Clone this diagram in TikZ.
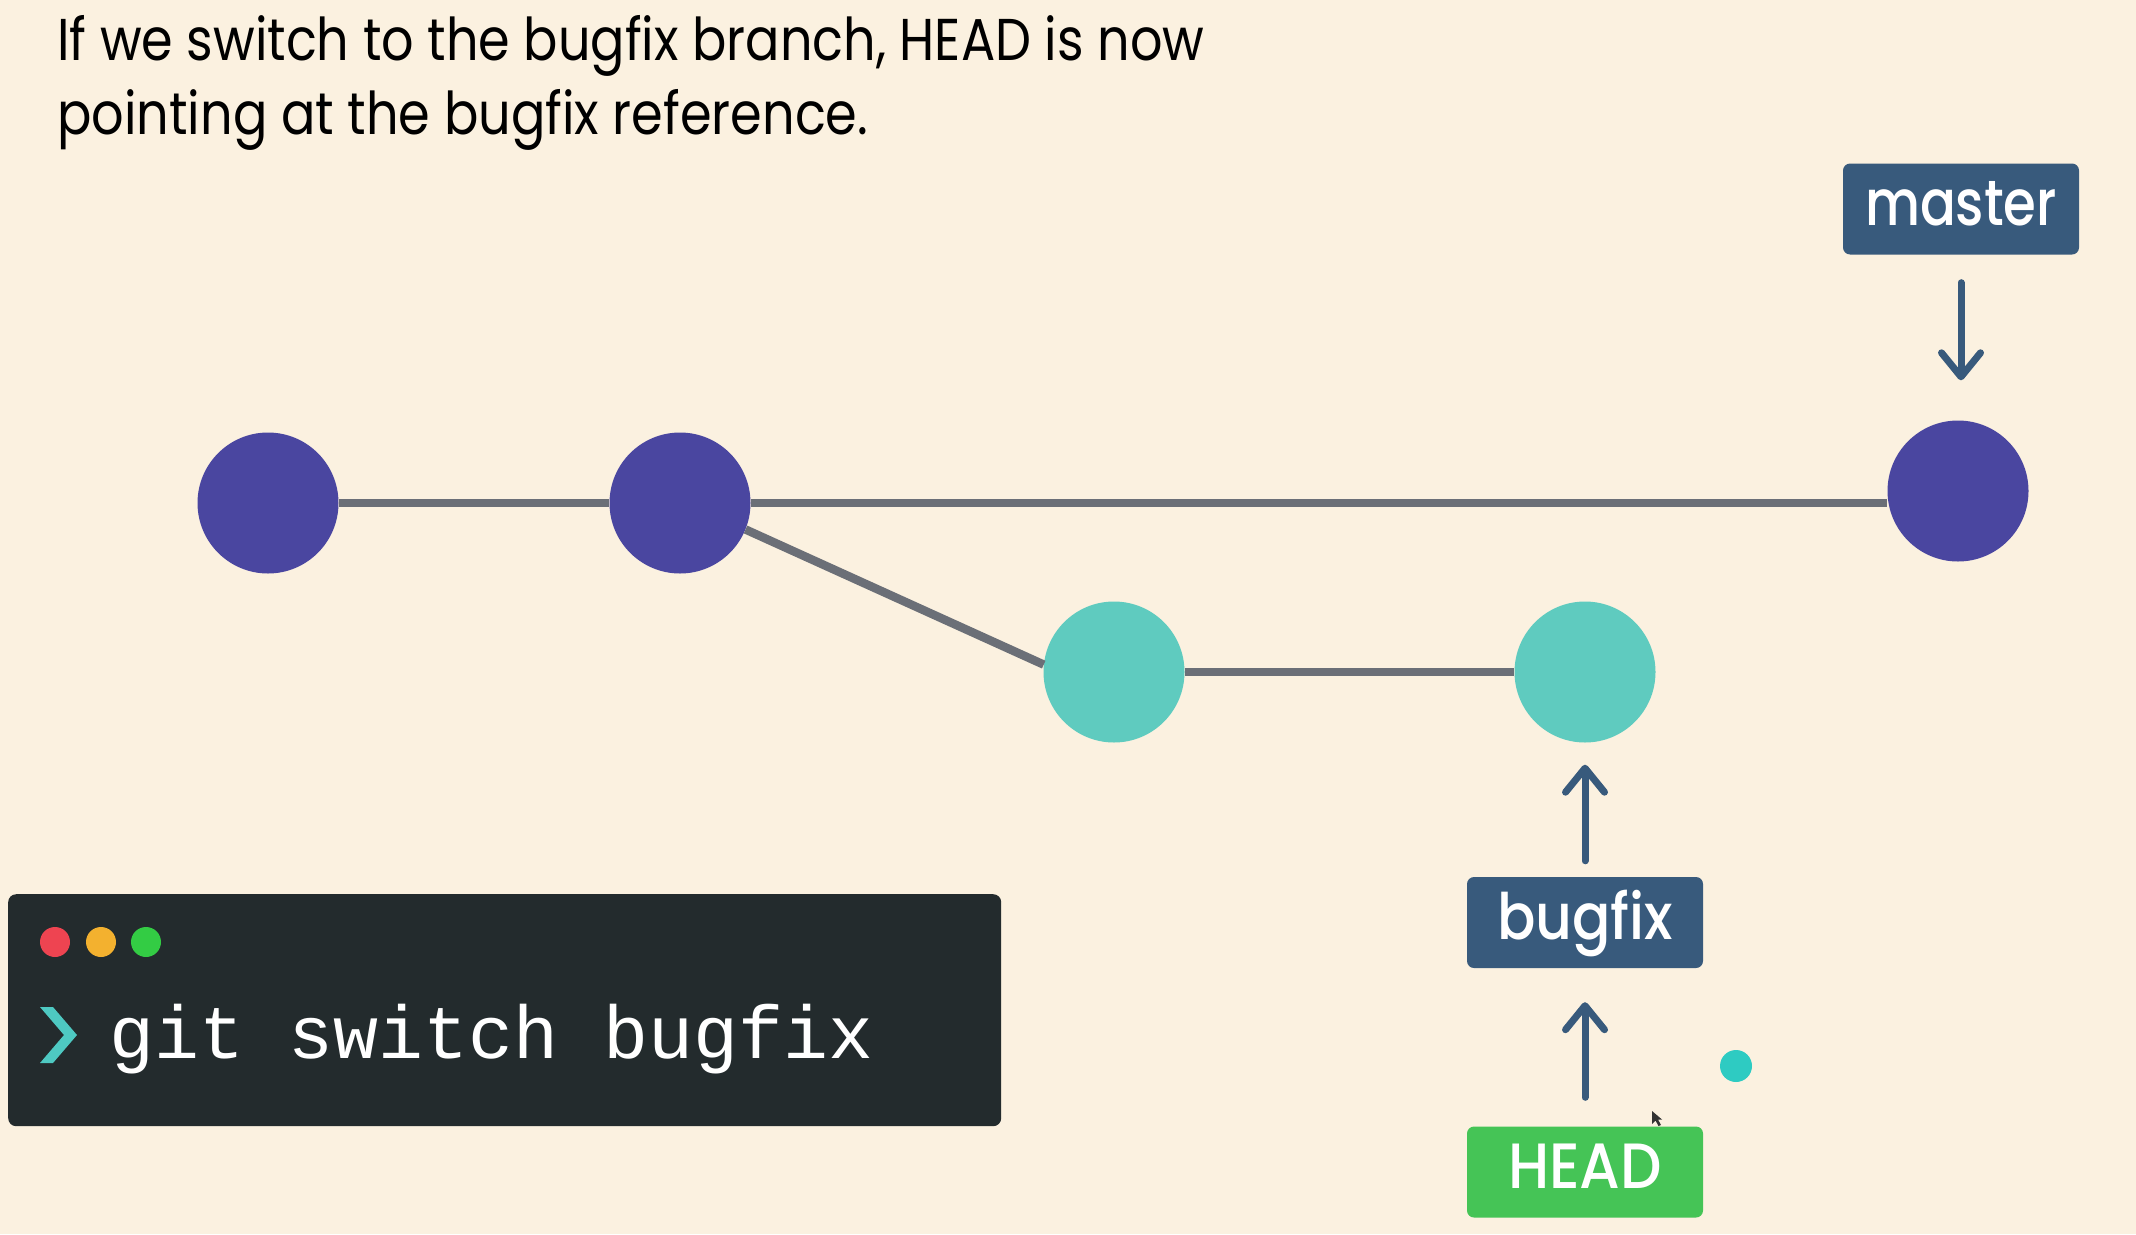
\documentclass[tikz,border=0pt]{standalone}
\usepackage{fontspec}
\usepackage{graphicx}
\usetikzlibrary{arrows.meta}
\setmainfont{Poppins}
\newfontfamily\labelfont{Poppins Medium}
\newfontfamily\termfont{Liberation Mono}
\definecolor{paper}{HTML}{FBF1E0}
\definecolor{commitpurple}{HTML}{4A46A0}
\definecolor{committeal}{HTML}{5FCBBF}
\definecolor{edgegray}{HTML}{6B6F77}
\definecolor{slate}{HTML}{385A7C}
\definecolor{headgreen}{HTML}{45C456}
\definecolor{termbg}{HTML}{232B2D}
\definecolor{dotred}{HTML}{EE4451}
\definecolor{dotyellow}{HTML}{F3B12F}
\definecolor{dotgreen}{HTML}{33CC44}
\definecolor{prompt}{HTML}{4EC9C2}
\definecolor{pointer}{HTML}{2ECBC2}
% stretch a text to a given width, keeping its height
\newcommand\fitto[2]{\resizebox{#1}{\height}{#2}}
\begin{document}
\begin{tikzpicture}[x=1pt,y=-1pt,
  commit/.style={circle,minimum size=141pt,inner sep=0pt},
  edge/.style={draw=edgegray,line width=8.5pt},
  refbox/.style={rounded corners=7pt,inner sep=0pt,minimum width=236pt,
    text height=62pt,text depth=29pt,text=white,
    font=\labelfont\fontsize{64}{68}\selectfont},
  refarrow/.style={draw=slate,line width=7pt,line cap=round,
    -{Straight Barb[round,length=24pt,width=39pt]}},
  caption/.style={anchor=base west,inner sep=0pt,
    font=\fontsize{59}{70}\selectfont},
  winbtn/.style={circle,minimum size=30pt,inner sep=0pt}]
\fill[paper] (0,0) rectangle (2136,1234);
\path[use as bounding box] (0,0) rectangle (2136,1234);

% caption
\node[caption] (cap1) at (57,60) {\fitto{1147pt}{If we switch to the bugfix branch, HEAD is now}};
\node[caption] (cap2) at (57,134) {\fitto{811pt}{pointing at the bugfix reference.}};

% commits
\node[commit,fill=commitpurple] (C1) at (268,503) {};
\node[commit,fill=commitpurple] (C2) at (680,503) {};
\node[commit,fill=commitpurple] (C3) at (1958,491) {};
\node[commit,fill=committeal] (C4) at (1114,672) {};
\node[commit,fill=committeal] (C5) at (1585,672) {};

\draw[edge] (C1) -- (C2);
\draw[edge] (C2) -- (C2 -| C3.west);
\draw[edge] (C2.-22) -- (C4.174);
\draw[edge] (C4) -- (C5);

% references
\node[refbox,fill=slate] (master) at (1961,209) {\fitto{192pt}{master}};
\node[refbox,fill=slate] (bugfix) at (1585,922.5) {\fitto{176pt}{bugfix}};
\node[refbox,fill=headgreen] (HEAD) at (1585,1172) {\fitto{154pt}{HEAD}};

\draw[refarrow,shorten <=28pt,shorten >=40pt] (master.south) -- (master.south |- C3.north);
\draw[refarrow,shorten <=16pt,shorten >=22pt] (bugfix.north) -- (bugfix.north |- C5.south);
\draw[refarrow,shorten <=29pt,shorten >=34pt] (HEAD.north) -- (bugfix.south);

% pointer marks
\node[circle,fill=pointer,minimum size=32pt,inner sep=0pt] (spot) at (1736,1066) {};
\fill[black!80] (1652,1111) -- (1652,1124) -- (1655.5,1120.5) -- (1658.5,1126) -- (1661,1125) -- (1658,1119.5) -- (1662,1119.5) -- cycle;

% terminal
\node[fill=termbg,rounded corners=8pt,minimum width=993pt,minimum height=232pt,
  inner sep=0pt,anchor=north west] (term) at (8,894) {};
\node[winbtn,fill=dotred] (btnA) at (55,942) {};
\node[winbtn,fill=dotyellow] (btnB) at (101,942) {};
\node[winbtn,fill=dotgreen] (btnC) at (146,942) {};
\fill[prompt] (40,1007) -- (53,1007) -- (77,1035) -- (53,1063) -- (40,1063) -- (64,1035) -- cycle;
\node[anchor=base west,inner sep=0pt,text=white,
  font=\termfont\fontsize{75}{80}\selectfont] (cmd) at (109,1058) {\fitto{764pt}{git switch bugfix}};
\end{tikzpicture}
\end{document}
